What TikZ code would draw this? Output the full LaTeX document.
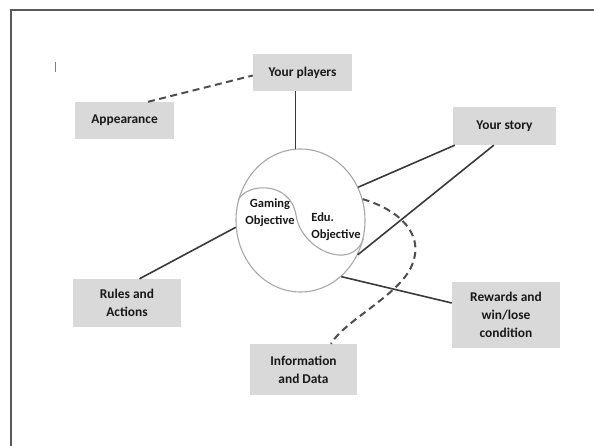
\documentclass[tikz,border=0pt]{standalone}
\usepackage{fontspec}
\setmainfont{Carlito}
\usepackage{tikz}
\usetikzlibrary{calc,shapes.geometric}
\definecolor{boxgray}{HTML}{D9D9D9}
\definecolor{linegray}{HTML}{3A3A3A}
\definecolor{ringgray}{HTML}{A8A8A8}
\tikzset{
	box/.style={fill=boxgray, align=center, inner sep=0pt, text=black!90, font=\fontsize{13.4}{18}\selectfont\bfseries},
	link/.style={line width=1.6pt, color=linegray},
	dashlink/.style={line width=2pt, color=linegray!90, dash pattern=on 7pt off 4.5pt},
	ring/.style={line width=1.1pt, color=ringgray}
}

\begin{document}
\begin{tikzpicture}[x=1pt, y=-1pt]
			%%%%% START %%%%%
			\useasboundingbox[fill=white] (0, 0) rectangle (594, 446);
			
			\draw[line width=2pt, color=black!65] (10.5, 446) -- (10.5, 10.5) -- (594, 10.5);
			\draw[line width=0.6pt, color=black!50] (55, 62) -- (55, 72);
			
			\node[box, minimum width=99pt, minimum height=37pt] (players) at (302.5, 72.5) {Your players};
			\node[box, minimum width=99pt, minimum height=37pt] (appear) at (124.5, 120.5) {Appearance};
			\node[box, minimum width=103pt, minimum height=38pt] (story) at (504.5, 126) {Your story};
			\node[box, minimum width=108pt, minimum height=48pt] (rules) at (127, 303) {Rules and\\Actions};
			\node[box, minimum width=108pt, minimum height=66pt] (rewards) at (506, 315) {Rewards and\\win/lose\\condition};
			\node[box, minimum width=107pt, minimum height=51pt] (info) at (303.5, 369.5) {Information\\and Data};
			
			\node[ring, draw, ellipse, minimum width=129pt, minimum height=143pt, inner sep=0pt] (core) at (300.5, 220.5) {};
			\draw[ring] (core.162) .. controls (246, 183) and (290, 180) .. (296, 215)
				.. controls (301, 250) and (352, 272) .. (core.-16);
			\node[box, fill=none, font=\fontsize{12.5}{17}\selectfont\bfseries] (gameobj) at (270, 213) {Gaming\\Objective};
			\node[box, fill=none, align=left, font=\fontsize{12.5}{17}\selectfont\bfseries] (eduobj) at (336, 227) {Edu.\\Objective};
			
			\draw[link] (core.94) -- (core.94 |- players.south);
			\draw[link] ($(story.south west)+(2, 0)$) -- (core.30);
			\draw[link] ($(story.south west)+(41, 0)$) -- (core.-31);
			\draw[link] ($(rules.north)+(12.5, 0)$) -- (core.186);
			\draw[link] (core.-54) -- ($(rewards.west)+(0, -12)$);
			
			\draw[dashlink] ($(appear.north)+(23.5, 0)$) -- ($(players.west)+(0, 3)$);
			\draw[dashlink] (core.19) .. controls (400, 210) and (425, 235) .. (412, 265)
				.. controls (400, 295) and (345, 320) .. ($(info.north)+(27.5, 0)$);
			%%%%% END %%%%%
\end{tikzpicture}
\end{document}
